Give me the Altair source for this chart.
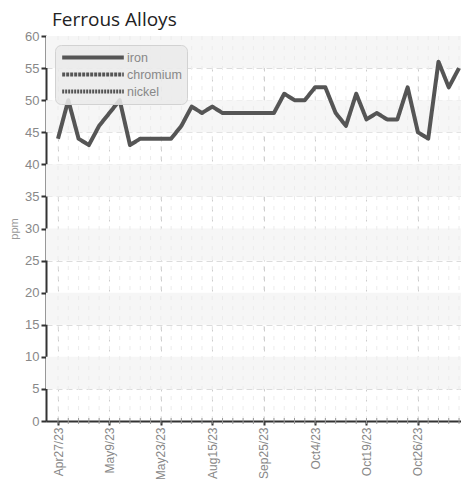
import altair as alt
import pandas as pd

# ---- data ----
title_text = "Ferrous Alloys"
series = ["iron", "chromium", "nickel"]
tick_labels = ["Apr27/23", "May9/23", "May23/23", "Aug15/23",
               "Sep25/23", "Oct4/23", "Oct19/23", "Oct26/23"]
label_step = 5
iron = [44, 50, 44, 43, 46, 48, 50, 43, 44, 44,
        44, 44, 46, 49, 48, 49, 48, 48, 48, 48,
        48, 48, 51, 50, 50, 52, 52, 48, 46, 51,
        47, 48, 47, 47, 52, 45, 44, 56, 52, 55]
y_ticks = list(range(0, 65, 5))
y_title = "ppm"

# ---- layout ----
W, H = 415, 385
n = len(iron)
x_domain = [-1.167, n - 1 + 0.19]
lab_font = "Liberation Sans, Arial, sans-serif"

df = pd.DataFrame({"idx": list(range(n)), "value": iron, "series": "iron"})
bands = pd.DataFrame({"y0": y_ticks[1:-1:2], "y1": [t + 5 for t in y_ticks[1:-1:2]]})
major_idx = [i * label_step for i in range(len(tick_labels))]
label_expr = "[" + ",".join("'%s'" % s for s in tick_labels) + "][round(datum.value/%d)]" % label_step

xs = alt.Scale(domain=x_domain, nice=False, zero=False)
ys = alt.Scale(domain=[y_ticks[0], y_ticks[-1]], nice=False)

x_axis = alt.Axis(values=major_idx, labelExpr=label_expr, labelAngle=-90,
                  labelFont=lab_font, labelFontSize=12, labelColor="#888",
                  labelPadding=2, title=None,
                  domainColor="#333", domainWidth=2, tickColor="#333",
                  tickWidth=2, tickSize=4,
                  grid=True, gridColor="#cccccc", gridDash=[5, 5], gridWidth=1)
y_axis = alt.Axis(values=y_ticks, labelFont=lab_font, labelFontSize=13,
                  labelColor="#888", labelPadding=2, title=y_title,
                  titleFont=lab_font, titleFontSize=11, titleColor="#999",
                  titleFontWeight="normal", titlePadding=5,
                  domainColor="#333", domainWidth=2, tickColor="#333",
                  tickWidth=2, tickSize=5,
                  grid=True, gridColor="#dcdcdc", gridDash=[6, 4], gridWidth=1)

band_layer = alt.Chart(bands).mark_rect(color="#f6f6f6").encode(
    x=alt.value(0), x2=alt.value(W),
    y=alt.Y("y0:Q", scale=ys, axis=y_axis, title=y_title), y2="y1:Q")

minor_grid = alt.Chart(df).mark_rule(color="#ececec", strokeDash=[4, 6], strokeWidth=1).encode(
    x=alt.X("idx:Q", scale=xs, axis=x_axis, title=None),
    y=alt.value(0), y2=alt.value(H))

minor_ticks = alt.Chart(df).mark_rule(color="#999", strokeWidth=1).encode(
    x=alt.X("idx:Q", scale=xs, axis=x_axis, title=None),
    y=alt.value(H - 3), y2=alt.value(H + 3))

line = alt.Chart(df).mark_line(strokeJoin="round", clip=False).encode(
    x=alt.X("idx:Q", scale=xs, axis=x_axis, title=None),
    y=alt.Y("value:Q", scale=ys, axis=y_axis, title=y_title),
    color=alt.Color("series:N", scale=alt.Scale(domain=series, range=["#555", "#555", "#555"]),
                    title=None),
    strokeDash=alt.StrokeDash("series:N", scale=alt.Scale(domain=series, range=[[1, 0], [3, 1], [2, 1]]),
                              title=None),
    strokeWidth=alt.StrokeWidth("series:N", scale=alt.Scale(domain=series, range=[4, 4, 2.5]),
                                title=None),
)

chart = alt.layer(band_layer, minor_grid, line, minor_ticks).properties(
    width=W, height=H,
    title=alt.TitleParams(title_text, anchor="start", font="Open Sans", fontSize=19,
                          fontWeight="normal", color="#222", dx=6, dy=8, offset=8, frame="group"),
    autosize=alt.AutoSizeParams(type="none"),
    padding={"left": 38, "top": 28, "right": 0, "bottom": 58},
).configure_view(stroke=None).configure_legend(
    orient="top-left", offset=9, padding=5,
    fillColor="rgba(234,234,234,0.88)", strokeColor="#d2d2d2", cornerRadius=6,
    symbolType="stroke", symbolSize=3800, clipHeight=15, symbolStrokeColor="#555",
    labelFont=lab_font, labelFontSize=12.5, labelColor="#888", labelOffset=1,
    rowPadding=2,
)

chart.save("out.html", embed_options={"renderer": "svg", "actions": False})
